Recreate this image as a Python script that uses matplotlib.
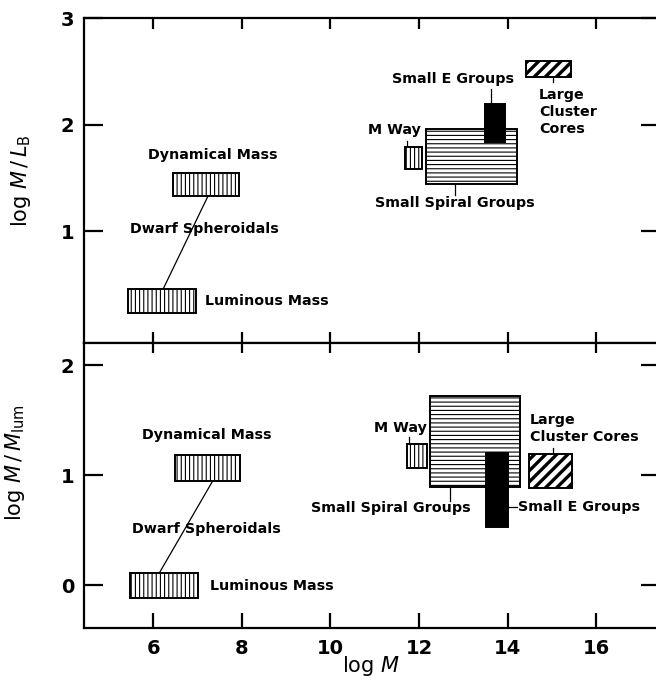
import matplotlib
matplotlib.use("Agg")
import matplotlib.pyplot as plt
from matplotlib.patches import Rectangle

plt.rcParams["font.family"] = ["DejaVu Sans"]
plt.rcParams["hatch.linewidth"] = 0.8

# mass ranges (log M) and ratios for each system, same order in both panels
groups = ["Dwarf Dynamical", "Dwarf Luminous", "M Way",
          "Small Spiral Groups", "Small E Groups", "Large Cluster Cores"]

# upper panel: log M / L_B
ml_x_lo = [6.45, 5.44, 11.68, 12.15, 13.48, 14.42]
ml_x_hi = [7.93, 6.97, 12.06, 14.22, 13.95, 15.43]
ml_y_lo = [1.33, 0.23, 1.58, 1.44, 1.84, 2.45]
ml_y_hi = [1.55, 0.46, 1.79, 1.96, 2.19, 2.60]

# lower panel: log M / M_lum
mm_x_lo = [6.50, 5.48, 11.74, 12.26, 13.52, 14.49]
mm_x_hi = [7.96, 7.01, 12.19, 14.29, 14.00, 15.46]
mm_y_lo = [0.95, -0.12, 1.06, 0.89, 0.53, 0.88]
mm_y_hi = [1.18, 0.11, 1.28, 1.72, 1.20, 1.19]

x_ticks = [6, 8, 10, 12, 14, 16]
ml_ticks = [1, 2, 3]
mm_ticks = [0, 1, 2]

hatches = ["||||", "||||", "||||", "----", None, "///"]
faces = ["white", "white", "white", "white", "black", "white"]

TXT = dict(fontsize=10.3, fontweight="bold")


def draw_boxes(ax, x_lo, x_hi, y_lo, y_hi):
    for i in range(len(groups)):
        r = Rectangle((x_lo[i], y_lo[i]), x_hi[i] - x_lo[i], y_hi[i] - y_lo[i],
                      facecolor=faces[i], edgecolor="black", linewidth=1.4,
                      hatch=hatches[i], zorder=3 + i * 0.1)
        if hatches[i] == "///":
            try:
                r.set_hatch_linewidth(2.4)
            except AttributeError:
                pass
        ax.add_patch(r)


def leader(ax, x0, y0, x1, y1):
    ax.plot([x0, x1], [y0, y1], color="black", linewidth=0.9, zorder=2)


def style_axes(ax, yticks, ylim):
    ax.set_xlim(4.44, 17.44)
    ax.set_ylim(*ylim)
    ax.set_xticks(x_ticks)
    ax.set_yticks(yticks)
    for s in ax.spines.values():
        s.set_linewidth(1.6)
    ax.tick_params(axis="y", direction="in", length=14, width=1.6,
                   left=True, right=True, labelsize=14, pad=7)
    for lab in ax.get_yticklabels():
        lab.set_fontweight("bold")


fig = plt.figure(figsize=(6.56, 6.84), dpi=100)
ax1 = fig.add_axes([84 / 656, 341 / 684, 576 / 656, 325 / 684])
ax2 = fig.add_axes([84 / 656, 56 / 684, 576 / 656, 285 / 684])

# ---- upper panel ----
style_axes(ax1, ml_ticks, (-0.05, 3.0))
# top ticks point down; bottom ticks meet the lower panel's top ticks
ax1.tick_params(axis="x", top=True, bottom=True, direction="in", length=8,
                width=1.6, labelbottom=False)
draw_boxes(ax1, ml_x_lo, ml_x_hi, ml_y_lo, ml_y_hi)

leader(ax1, 7.24, ml_y_lo[0], 6.23, ml_y_hi[1])
ax1.text(7.35, 1.71, "Dynamical Mass", ha="center", va="center", **TXT)
ax1.text(7.15, 1.02, "Dwarf Spheroidals", ha="center", va="center", **TXT)
ax1.text(7.17, 0.34, "Luminous Mass", ha="left", va="center", **TXT)

leader(ax1, 11.73, ml_y_hi[2], 11.73, 1.85)
ax1.text(11.45, 1.95, "M Way", ha="center", va="center", **TXT)
leader(ax1, 12.82, ml_y_lo[3], 12.82, 1.34)
ax1.text(12.82, 1.26, "Small Spiral Groups", ha="center", va="center", **TXT)
leader(ax1, 13.63, ml_y_hi[4], 13.63, 2.33)
ax1.text(12.76, 2.43, "Small E Groups", ha="center", va="center", **TXT)
leader(ax1, 15.03, ml_y_lo[5], 15.03, 2.40)
ax1.text(14.71, 2.12, "Large\nCluster\nCores", ha="left", va="center",
         linespacing=1.25, **TXT)

ax1.set_ylabel(r"log $M\,/\,L_{\mathrm{B}}$", fontsize=15)
ax1.yaxis.set_label_coords(-0.089, 0.5)

# ---- lower panel ----
style_axes(ax2, mm_ticks, (-0.39, 2.2))
ax2.tick_params(axis="x", top=True, bottom=True, direction="in", length=11,
                width=1.6, labelsize=14, pad=8)
for t in ax2.xaxis.get_major_ticks():
    t.tick2line.set_markersize(7)
for lab in ax2.get_xticklabels():
    lab.set_fontweight("bold")
draw_boxes(ax2, mm_x_lo, mm_x_hi, mm_y_lo, mm_y_hi)

leader(ax2, 7.35, mm_y_lo[0], 6.14, mm_y_hi[1])
ax2.text(7.22, 1.36, "Dynamical Mass", ha="center", va="center", **TXT)
ax2.text(7.20, 0.51, "Dwarf Spheroidals", ha="center", va="center", **TXT)
ax2.text(7.29, -0.01, "Luminous Mass", ha="left", va="center", **TXT)

leader(ax2, 11.78, mm_y_hi[2], 11.78, 1.35)
ax2.text(11.58, 1.43, "M Way", ha="center", va="center", **TXT)
leader(ax2, 12.70, mm_y_lo[3], 12.70, 0.76)
ax2.text(13.16, 0.70, "Small Spiral Groups", ha="right", va="center", **TXT)
leader(ax2, mm_x_hi[4], 0.71, 14.22, 0.71)
ax2.text(14.24, 0.71, "Small E Groups", ha="left", va="center", **TXT)
leader(ax2, 15.03, mm_y_hi[5], 15.03, 1.25)
ax2.text(14.51, 1.42, "Large\nCluster Cores", ha="left", va="center",
         linespacing=1.3, **TXT)

ax2.set_ylabel(r"log $M\,/\,M_{\mathrm{lum}}$", fontsize=15)
ax2.yaxis.set_label_coords(-0.099, 0.58)
ax2.set_xlabel(r"log $M$", fontsize=15)
ax2.xaxis.set_label_coords(0.498, -0.09)

fig.savefig("out.png", dpi=100)
